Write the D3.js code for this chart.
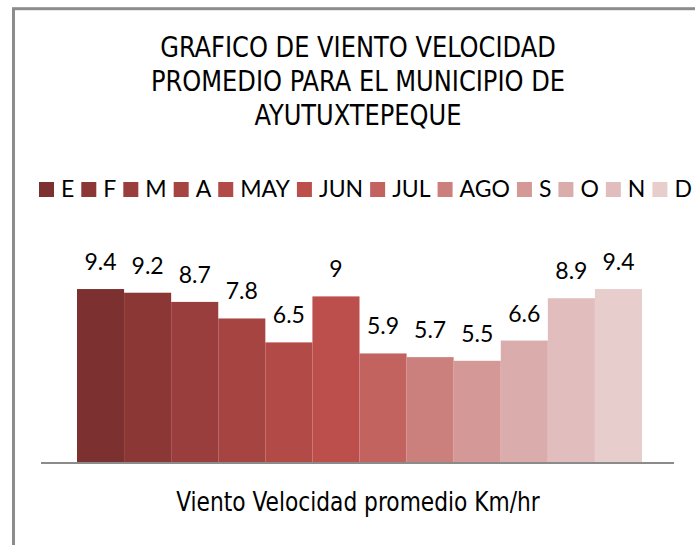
<!DOCTYPE html>
<html>
<head>
<meta charset="utf-8">
<script src="https://cdn.jsdelivr.net/npm/d3@7"></script>
<style>
  html, body { margin: 0; padding: 0; background: #fff; overflow: hidden; }
  svg { display: block; }
</style>
</head>
<body>
<div id="chart"></div>
<script>
// Monthly average wind speed, Ayutuxtepeque (Km/hr)
const months = ["E", "F", "M", "A", "MAY", "JUN", "JUL", "AGO", "S", "O", "N", "D"];
const values = [9.4, 9.2, 8.7, 7.8, 6.5, 9, 5.9, 5.7, 5.5, 6.6, 8.9, 9.4];
const colors = ["#7c3030", "#8b3736", "#993e3c", "#a64441", "#b24a47", "#bc4f4c",
                "#c3635f", "#cc807d", "#d49896", "#daadac", "#e1bebd", "#e8cdcd"];
const titleLines = ["GRAFICO DE VIENTO VELOCIDAD", "PROMEDIO PARA EL MUNICIPIO DE", "AYUTUXTEPEQUE"];
const axisTitle = "Viento Velocidad promedio Km/hr";

const W = 695, H = 545;
const narrow = "'Liberation Sans Narrow', 'Arial Narrow', 'DejaVu Sans Condensed', sans-serif";
const normal = "Lato, 'Open Sans', sans-serif";

// squeeze a text horizontally (no narrow font installed)
function squeeze(sel, k) {
  sel.each(function () {
    const len = this.getComputedTextLength();
    d3.select(this).attr("textLength", len * k).attr("lengthAdjust", "spacingAndGlyphs");
  });
}

const svg = d3.select("#chart").append("svg")
  .attr("width", W).attr("height", H);

// Chart area border (runs off the right/bottom edge)
svg.append("rect")
  .attr("x", 13.5).attr("y", 8.7)
  .attr("width", W + 20).attr("height", H + 20)
  .attr("fill", "#fff")
  .attr("stroke", "#8c8c8c").attr("stroke-width", 3);

// Title
svg.append("g").selectAll("text")
  .data(titleLines).join("text")
  .attr("x", 358)
  .attr("y", (d, i) => 57 + i * 34)
  .attr("text-anchor", "middle")
  .attr("font-family", narrow).attr("font-size", 29)
  .attr("fill", "#000")
  .text(d => d)
  .call(squeeze, 0.925);

// Legend
const lg = svg.append("g").attr("transform", "translate(39, 0)");
let lx = 0;
months.forEach((m, i) => {
  lg.append("rect")
    .attr("x", lx).attr("y", 182)
    .attr("width", 15).attr("height", 15)
    .attr("fill", colors[i]);
  const t = lg.append("text")
    .attr("x", lx + 22).attr("y", 197)
    .attr("font-family", normal).attr("font-size", 23)
    .attr("fill", "#000")
    .text(m);
  lx += 22 + t.node().getComputedTextLength() + 7;
});

// Scales
const x = d3.scaleBand().domain(months).range([77, 642]).padding(0);
const y = d3.scaleLinear().domain([0, 10]).range([462, 278]);

// Bars
svg.selectAll("rect.bar")
  .data(months).join("rect").attr("class", "bar")
  .attr("x", d => x(d))
  .attr("y", (d, i) => y(values[i]))
  .attr("width", x.bandwidth())
  .attr("height", (d, i) => y(0) - y(values[i]))
  .attr("fill", (d, i) => colors[i]);

// Value labels
svg.selectAll("text.value")
  .data(months).join("text").attr("class", "value")
  .attr("x", d => x(d) + x.bandwidth() / 2)
  .attr("y", (d, i) => y(values[i]) - 19)
  .attr("text-anchor", "middle")
  .attr("font-family", normal).attr("font-size", 23)
  .attr("fill", "#000")
  .text((d, i) => values[i]);

// Category axis line
svg.append("line")
  .attr("x1", 41).attr("x2", 674)
  .attr("y1", y(0) + 1).attr("y2", y(0) + 1)
  .attr("stroke", "#8b8b8b").attr("stroke-width", 2);

// Axis title
svg.append("text")
  .attr("x", 358).attr("y", 511)
  .attr("text-anchor", "middle")
  .attr("font-family", narrow).attr("font-size", 26)
  .attr("fill", "#000")
  .text(axisTitle)
  .call(squeeze, 0.93);
</script>
</body>
</html>
